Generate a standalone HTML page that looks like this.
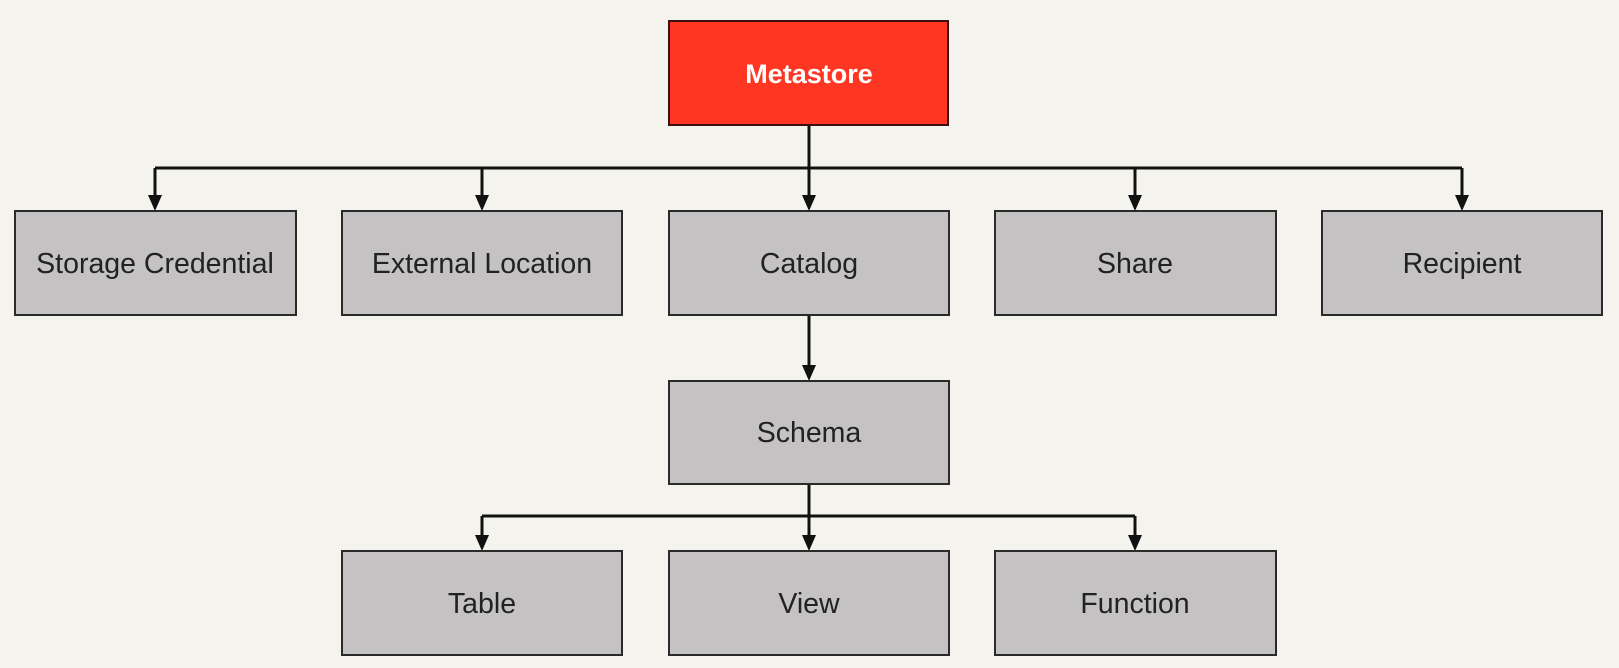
<!DOCTYPE html>
<html><head><style>
html,body{margin:0;padding:0;background:#f4f3ed;}
svg{display:block}
text{font-family:"Liberation Sans",sans-serif;font-size:28.5px;fill:#222;text-anchor:middle;dominant-baseline:central}
.b{fill:#c4c2c2;stroke:#2a2a2a;stroke-width:2}
.l{stroke:#111;stroke-width:3;fill:none}
</style></head><body>
<svg width="1619" height="668" viewBox="0 0 1619 668">
<line class="l" x1="809" y1="125" x2="809" y2="168"/>
<line class="l" x1="155" y1="168" x2="1462" y2="168"/>
<g class="l">
<path d="M155 168 V198"/><path d="M482 168 V198"/><path d="M809 168 V198"/><path d="M1135 168 V198"/><path d="M1462 168 V198"/>
<path d="M809 316 V368"/>
<path d="M809 484 V516"/><path d="M482 516 H1135"/>
<path d="M482 516 V538"/><path d="M809 516 V538"/><path d="M1135 516 V538"/>
</g>
<g fill="#111">
<path d="M148 195 L162 195 L155 211 Z"/><path d="M475 195 L489 195 L482 211 Z"/><path d="M802 195 L816 195 L809 211 Z"/><path d="M1128 195 L1142 195 L1135 211 Z"/><path d="M1455 195 L1469 195 L1462 211 Z"/>
<path d="M802 365 L816 365 L809 381 Z"/>
<path d="M475 535 L489 535 L482 551 Z"/><path d="M802 535 L816 535 L809 551 Z"/><path d="M1128 535 L1142 535 L1135 551 Z"/>
</g>
<rect x="669" y="21" width="279" height="104" fill="#ff3621" stroke="#3a1010" stroke-width="2"/>
<text x="809" y="74" style="fill:#fff;font-weight:bold;font-size:27px">Metastore</text>
<rect class="b" x="15" y="211" width="281" height="104"/><text x="155" y="264">Storage Credential</text>
<rect class="b" x="342" y="211" width="280" height="104"/><text x="482" y="264">External Location</text>
<rect class="b" x="669" y="211" width="280" height="104"/><text x="809" y="264">Catalog</text>
<rect class="b" x="995" y="211" width="281" height="104"/><text x="1135" y="264">Share</text>
<rect class="b" x="1322" y="211" width="280" height="104"/><text x="1462" y="264">Recipient</text>
<rect class="b" x="669" y="381" width="280" height="103"/><text x="809" y="433">Schema</text>
<rect class="b" x="342" y="551" width="280" height="104"/><text x="482" y="604">Table</text>
<rect class="b" x="669" y="551" width="280" height="104"/><text x="809" y="604">View</text>
<rect class="b" x="995" y="551" width="281" height="104"/><text x="1135" y="604">Function</text>
</svg>
</body></html>
